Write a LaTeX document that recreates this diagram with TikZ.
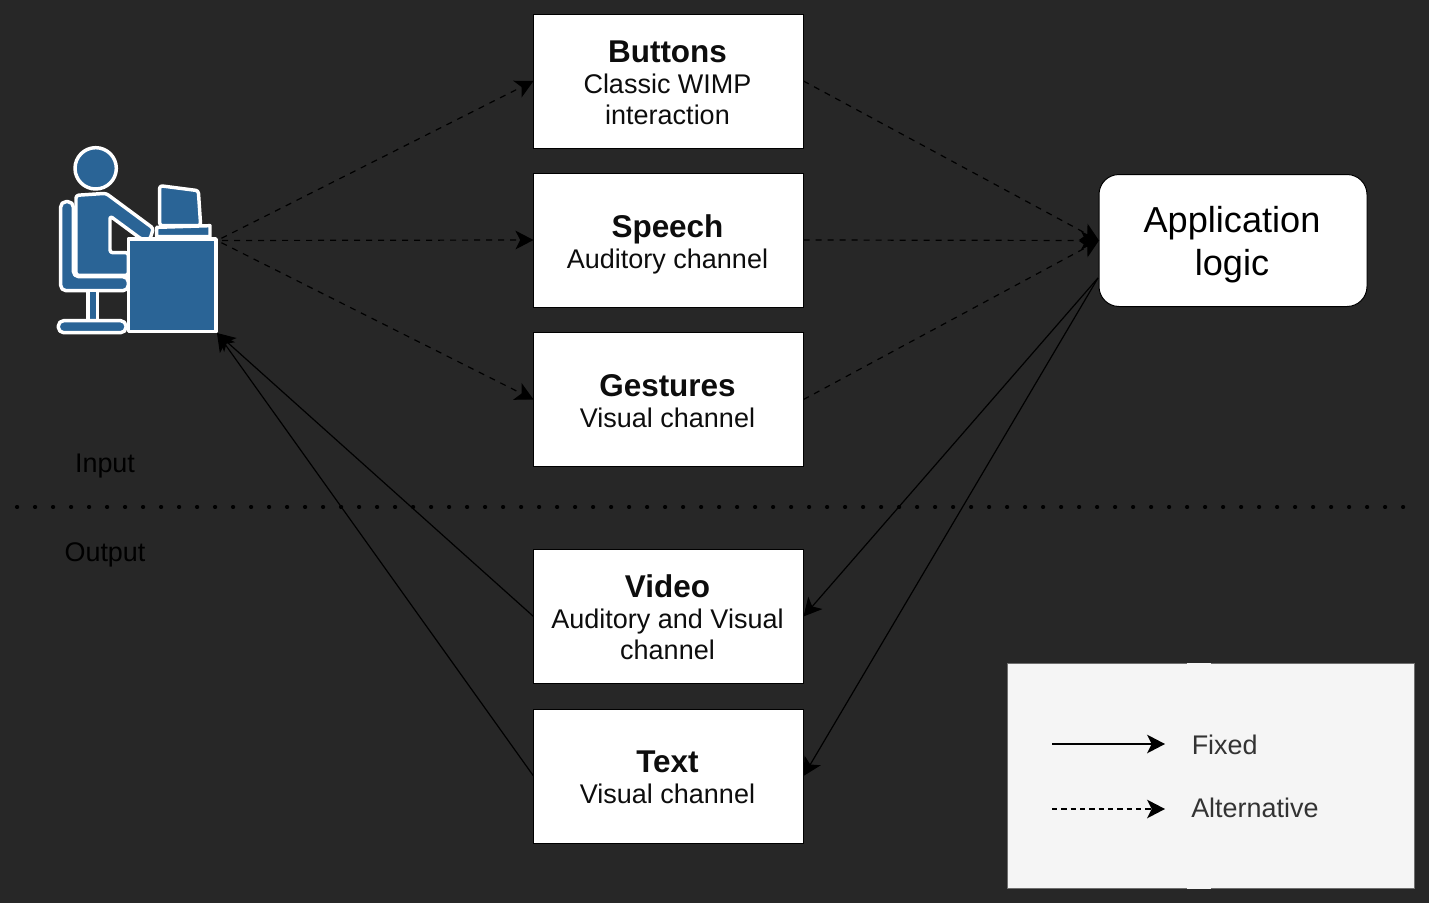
\documentclass[tikz,border=0pt]{standalone}
\usepackage{fontspec}
\setmainfont{Liberation Sans}
\usetikzlibrary{arrows.meta}
\definecolor{bgdark}{HTML}{272727}
\definecolor{iconblue}{HTML}{2A6496}
\definecolor{legfill}{HTML}{F5F5F5}
\definecolor{leggray}{HTML}{6E6E6E}
\definecolor{legtext}{HTML}{333333}
\newcommand{\bt}[3][26pt]{\kern-1.5pt\begin{tabular}{@{}c@{}}\rule{0pt}{#1}{\bfseries\fontsize{23.6}{32}\selectfont #2}\\[-0.25pt]#3\end{tabular}}
\tikzset{
  x=0.75pt,y=-0.75pt,
  box/.style={draw=black,line width=0.75pt,fill=white,minimum width=202.5pt,minimum height=100.5pt,inner sep=0pt,outer sep=0pt,text=black!95,font=\fontsize{20.25}{23.25}\selectfont},
  fixedarrow/.style={draw=black,line width=0.9pt,-{Stealth[length=13.5pt,width=14pt,inset=3.5pt]}},
  altarrow/.style={fixedarrow,dash pattern=on 4.5pt off 4.5pt},
  iconpart/.style={draw=white,line width=2.6pt,fill=iconblue,rounded corners=2pt,line join=round},
  plain/.style={text=black,font=\fontsize{20.2}{24}\selectfont,inner sep=0pt},
  legendtext/.style={text=legtext,font=\fontsize{20.2}{24}\selectfont,inner sep=0pt,anchor=west},
}
\begin{document}
\begin{tikzpicture}
\path[use as bounding box,fill=bgdark] (0,0) rectangle (1429,903);

% user icon
\node[minimum width=119.25pt,minimum height=138.75pt,inner sep=0pt,outer sep=0pt] (user) at (137.5,240.5) {};
\begin{scope}[shift={(40,130)},x=0.25pt,y=-0.25pt]
  \draw[iconpart,rounded corners=4pt] (62,215)--(100,215)--(100,440)--(265,440)--(265,482)--(62,482)--cycle;
  \draw[iconpart,rounded corners=0pt] (144,482) rectangle (172,572);
  \draw[iconpart,rounded corners=4pt] (55,572)--(258,572)--(258,608)--(55,608)--cycle;
  \draw[iconpart] (108,196)--(198,190)--(340,295)--(330,328)--(305,328)--(210,258)--(210,368)--(265,368)--(265,436)--(108,436)--cycle;
  \draw[iconpart,rounded corners=0pt] (265,327)--(528,327)--(528,605)--(265,605)--cycle;
  \draw[iconpart,rounded corners=0pt] (350,292)--(510,287)--(510,320)--(350,320)--cycle;
  \draw[iconpart] (359,167)--(475,182)--(482,287)--(359,287)--cycle;
  \draw[iconpart] (167,115) circle (62);
\end{scope}

% centre boxes
\node[box] (buttons) at (668.5,81) {\bt{Buttons}{Classic WIMP\\interaction}};
\node[box] (speech) at (668.5,240) {\bt{Speech}{Auditory channel}};
\node[box] (gestures) at (668.5,399.5) {\bt{Gestures}{Visual channel}};
\node[box] (video) at (668.5,616.5) {\bt[24.5pt]{Video}{Auditory and Visual\\channel}};
\node[box] (textbox) at (668.5,776) {\bt[24.5pt]{Text}{Visual channel}};

% application
\node[draw=black,line width=0.75pt,fill=white,rounded corners=15pt,minimum width=201pt,minimum height=99pt,inner sep=0pt,outer sep=0pt,align=center,text=black,font=\fontsize{27.1}{32}\selectfont] (app) at (1233,240.5) {\kern-1.5pt\begin{tabular}{@{}c@{}}\rule{0pt}{30pt}Application\\logic\end{tabular}};
\coordinate (appout) at (1098,278);

% labels and divider
\node[plain] (input) at (105,466) {Input};
\node[plain] (output) at (105,555) {Output};
\coordinate (divl) at (16.7,507);
\coordinate (divr) at (1412,507);
\draw[black,line width=2.6pt,line cap=round,dash pattern=on 0.6pt off 12.9pt] (divl)--(divr);

% connectors
\draw[altarrow,shorten <=3.75pt] (user.east)--(buttons.west);
\draw[altarrow,shorten <=3.75pt] (user.east)--(speech.west);
\draw[altarrow,shorten <=3.75pt] (user.east)--(gestures.west);
\draw[altarrow] (buttons.east)--(app.west);
\draw[altarrow] (speech.east)--(app.west);
\draw[altarrow] (gestures.east)--(app.west);
\draw[fixedarrow] (appout)--(video.east);
\draw[fixedarrow] (appout)--(textbox.east);
\draw[fixedarrow] (video.west)--(user.south east);
\draw[fixedarrow] (textbox.west)--(user.south east);

% legend
\node[draw=leggray,line width=0.75pt,fill=legfill,minimum width=305.25pt,minimum height=168.75pt,inner sep=0pt,outer sep=0pt] (legend) at (1210.5,775.5) {};
\draw[legfill,line width=0.75pt] (1187,663)--(1211,663) (1187,888)--(1211,888);
\coordinate (fixa) at (1052,744);
\coordinate (fixb) at (1165,744);
\coordinate (alta) at (1052,809);
\coordinate (altb) at (1165,809);
\draw[fixedarrow,line width=1.1pt] (fixa)--(fixb);
\draw[altarrow,line width=1.1pt,dash pattern=on 4pt off 3pt] (alta)--(altb);
\node[legendtext] (fixedlabel) at (1191.5,745) {Fixed};
\node[legendtext] (altlabel) at (1191,808) {Alternative};
\end{tikzpicture}
\end{document}
